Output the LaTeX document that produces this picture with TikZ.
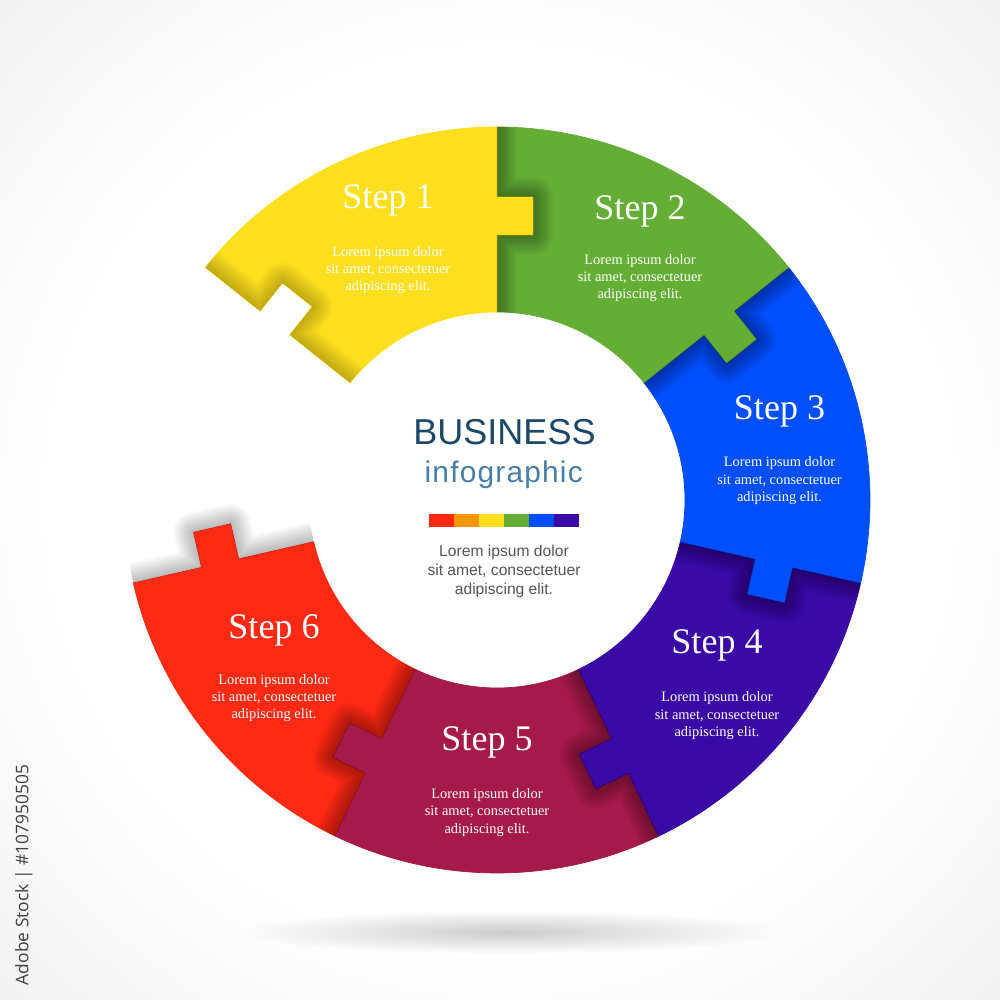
\documentclass[tikz,border=0pt]{standalone}
\usepackage{fontspec}
\setmainfont{Liberation Serif}
\setsansfont{Liberation Sans}
\newfontfamily\markfont{Open Sans}
\usetikzlibrary{positioning,fadings}

\definecolor{piece1}{RGB}{253,223,30}
\definecolor{piece2}{RGB}{100,174,53}
\definecolor{piece3}{RGB}{0,78,252}
\definecolor{piece4}{RGB}{57,10,166}
\definecolor{piece5}{RGB}{166,25,75}
\definecolor{piece6}{RGB}{255,42,20}
\definecolor{barorange}{RGB}{255,150,0}
\definecolor{bizdark}{RGB}{27,72,105}
\definecolor{bizlight}{RGB}{72,127,170}
\definecolor{midgray}{RGB}{85,85,85}

% ring geometry (1 unit = 1 px of the 1000 px picture)
\newcommand\rin{188}
\newcommand\rout{373}
\newcommand\tabin{265}
\newcommand\tabout{303}
\newcommand\tabw{38}
\newcommand\tabd{36}

% one puzzle piece: #1 = counterclockwise edge, #2 = clockwise edge (tab side)
\newcommand\piecepath[2]{%
  (#2:\rin) -- (#2:\tabin) -- ++(#2-90:\tabd) -- ++(#2:\tabw) -- ++(#2+90:\tabd)
  -- (#2:\rout) arc[start angle=#2, end angle=#1, radius=\rout]
  -- (#1:\tabout) -- ++(#1-90:\tabd) -- ++(#1+180:\tabw) -- ++(#1+90:\tabd)
  -- (#1:\rin) arc[start angle=#1, end angle=#2, radius=\rin] -- cycle}

\pgfdeclareradialshading{backglow}{\pgfpoint{0bp}{0bp}}{color(0bp)=(white); color(16bp)=(white); color(50bp)=(black!18)}
\tikzfading[name=softspot, inner color=transparent!0, outer color=transparent!100]

\tikzset{
  piece/.style={fill=#1, draw=#1, line width=0.4pt},
  fold/.style={draw=black, opacity=#1, line join=round},
  steptitle/.style={text=white, font=\fontsize{20.5}{24}\selectfont, anchor=base, inner sep=0pt},
  steptext/.style={text=white, font=\fontsize{8.2}{9.85}\selectfont, align=center, anchor=base, inner sep=0pt},
  headline/.style={text=bizdark, font=\sffamily\fontsize{20.5}{24}\selectfont, anchor=base, inner sep=0pt},
  subline/.style={text=bizlight, font=\sffamily\fontsize{17}{20}\selectfont\addfontfeatures{LetterSpace=4}, anchor=base, inner sep=0pt},
  midtext/.style={text=midgray, font=\sffamily\fontsize{8.9}{10.8}\selectfont, align=center, anchor=base, inner sep=0pt},
  stockmark/.style={text=black!75, font=\markfont\fontsize{9.9}{12}\selectfont, inner sep=0pt}
}

\begin{document}
\begin{tikzpicture}[x=0.2mm, y=0.2mm]
\useasboundingbox (-497,-500) rectangle (503,500);
\begin{scope}
  \clip (-497,-500) rectangle (503,500);
  \fill[shading=backglow] (-697,-700) rectangle (703,700);
\end{scope}
\fill[black, opacity=0.2, path fading=softspot] (11,-432) ellipse [x radius=270, y radius=22];
\fill[white] (0,0) circle[radius=\rin];

% pieces, last one first so each tab lies on the next piece
\foreach \n/\hi/\lo in {6/-115.71/-167.14, 5/-64.29/-115.71, 4/-12.86/-64.29,
                        3/38.57/-12.86, 2/90/38.57, 1/141.43/90}
  \fill[piece=piece\n] \piecepath{\hi}{\lo};

% shadow of the neighbour on each piece (a missing 7th piece for step 1)
\foreach \hi/\lo/\phi/\plo/\op in {141.43/90/192.86/141.43/0.025, 90/38.57/141.43/90/0.035,
    38.57/-12.86/90/38.57/0.035, -12.86/-64.29/38.57/-12.86/0.035,
    -64.29/-115.71/-12.86/-64.29/0.035, -115.71/-167.14/-64.29/-115.71/0.035,
    192.86/141.43/-115.71/-167.14/0.028}{
  \begin{scope}
    \clip \piecepath{\hi}{\lo};
    \foreach \w in {4,8,...,40}
      \path[fold=\op, line width=\w*0.2mm] \piecepath{\phi}{\plo};
  \end{scope}
}

\foreach \n/\x/\y/\ly in {1/-109/291/209.3, 2/143/280/201.3, 3/282.5/80.7/-1.4,
                          4/220/-153.3/-236.4, 5/-10/-250/-333, 6/-223/-138.3/-218.7}{
  \node[steptitle] (t\n) at (\x,\y) {Step \n};
  \node[steptext] (l\n) at (\x,\ly) {Lorem ipsum dolor\\sit amet, consectetuer\\adipiscing elit.};
}

\node[headline] (biz) at (7.5,55.7) {BUSINESS};
\node[subline] (info) at (6.7,17.7) {infographic};
\foreach \i/\c in {0/piece6, 1/barorange, 2/piece1, 3/piece2, 4/piece3, 5/piece4}
  \fill[\c] (-68+25*\i,-14) rectangle ++(25,-13);
\node[midtext] (mid) at (7,-94) {Lorem ipsum dolor\\sit amet, consectetuer\\adipiscing elit.};

\node[stockmark, rotate=90] (mark) at (-473,-375) {Adobe Stock | \#107950505};
\end{tikzpicture}
\end{document}
